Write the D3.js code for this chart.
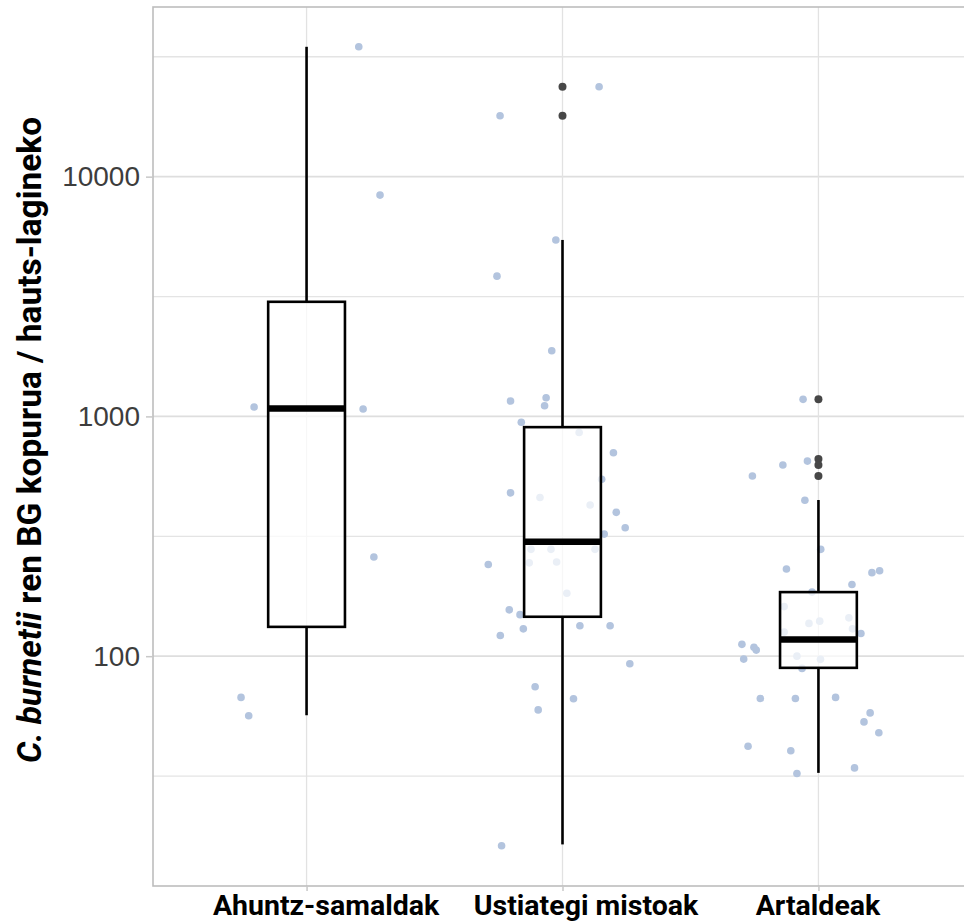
<!doctype html>
<meta charset="utf-8">
<style>
body { margin: 0; background: #fff; overflow: hidden; }
svg { display: block; }
.tick text { fill: #4d4d4d; }
</style>
<script src="https://d3js.org/d3.v7.min.js"></script>
<body>
<svg id="chart"></svg>
<script>
// categories and box statistics
var categories = ["Ahuntz-samaldak", "Ustiategi mistoak", "Artaldeak"];
var whiskerLow = [56.7, 16.4, 32.6];
var q1 = [132.5, 146, 89.4];
var median = [1080, 300, 117.4];
var q3 = [3006, 902, 185];
var whiskerHigh = [34800, 5445, 448];
var outliers = [[], [23700, 17950], [1178, 664, 627, 564]];

// individual samples (value, jitter as a fraction of the category step)
var ahuntzValues = [34800, 8375, 1094, 1073, 259, 67.3, 56.4];
var ahuntzJitter = [0.204, 0.287, -0.205, 0.221, 0.263, -0.256, -0.226];
var ustiategiValues = [23700, 17950, 5445, 3846, 1879, 1196, 1159, 1107, 945, 857, 705, 547, 480, 459, 427,
  398, 343, 323, 279, 279, 279, 247, 245, 241, 183, 156, 149, 134, 134, 130, 122, 93, 74.5, 66.4, 59.7, 16.2];
var ustiategiJitter = [0.143, -0.244, -0.026, -0.256, -0.042, -0.064, -0.203, -0.070, -0.161, 0.065, 0.199, 0.153, -0.203, -0.088, 0.108,
  0.210, 0.245, 0.163, -0.123, -0.045, 0.127, -0.023, -0.130, -0.290, 0.017, -0.208, -0.166, 0.068, 0.186, -0.153, -0.243, 0.263, -0.107, 0.043, -0.095, -0.238];
var artaldeakValues = [1178, 651, 627, 564, 447, 279, 231, 223, 227, 199, 185, 161, 137, 140, 144.5, 126, 130, 124.4,
  112, 109, 106, 97.2, 100, 97, 88.9, 66.6, 66.6, 67.3, 58, 53.2, 47.9, 42.1, 40.3, 34.2, 32.4];
var artaldeakJitter = [-0.060, -0.043, -0.139, -0.258, -0.053, 0.009, -0.125, 0.209, 0.239, 0.131, -0.025, -0.134, -0.037, 0.005, 0.119, -0.134, 0.133, 0.166,
  -0.299, -0.252, -0.243, -0.292, -0.084, 0.008, -0.064, -0.227, -0.090, 0.067, 0.202, 0.178, 0.236, -0.275, -0.108, 0.141, -0.084];

var majorBreaks = [100, 1000, 10000];
var minorBreaks = [31.62, 316.2, 3162, 31623];

var samples = [ahuntzValues, ustiategiValues, artaldeakValues];
var jitters = [ahuntzJitter, ustiategiJitter, artaldeakJitter];

var width = 964, height = 924;
var panel = {left: 153, right: 972, top: 7, bottom: 886};

var svg = d3.select("#chart").attr("width", width).attr("height", height);

var x = d3.scalePoint()
    .domain(categories)
    .range([panel.left, panel.right])
    .padding(0.6);

var y = d3.scaleLog()
    .domain([11, 51000])
    .range([panel.bottom, panel.top]);

var step = x.step();
var boxW = 0.3 * step;

// grid
var grid = svg.append("g");
grid.selectAll(".minor").data(minorBreaks).enter().append("line")
    .attr("x1", panel.left).attr("x2", width)
    .attr("y1", function(d){ return y(d); }).attr("y2", function(d){ return y(d); })
    .attr("stroke", "#e4e4e4").attr("stroke-width", 1.3);
grid.selectAll(".major").data(majorBreaks).enter().append("line")
    .attr("x1", panel.left).attr("x2", width)
    .attr("y1", function(d){ return y(d); }).attr("y2", function(d){ return y(d); })
    .attr("stroke", "#dedede").attr("stroke-width", 1.6);
grid.selectAll(".vert").data(categories).enter().append("line")
    .attr("x1", function(d){ return x(d); }).attr("x2", function(d){ return x(d); })
    .attr("y1", panel.top).attr("y2", panel.bottom)
    .attr("stroke", "#e2e2e2").attr("stroke-width", 1.3);

// jittered samples
var pts = [];
categories.forEach(function(c, i){
  samples[i].forEach(function(v, j){ pts.push({cat: c, v: v, dx: jitters[i][j]}); });
});
svg.append("g").selectAll("circle").data(pts).enter().append("circle")
    .attr("cx", function(d){ return x(d.cat) + d.dx * step; })
    .attr("cy", function(d){ return y(d.v); })
    .attr("r", 3.8)
    .attr("fill", "#b3c4de");

// boxplots
var boxes = categories.map(function(c, i){
  return {cat: c, lo: whiskerLow[i], q1: q1[i], med: median[i], q3: q3[i], hi: whiskerHigh[i], out: outliers[i]};
});
var bg = svg.append("g").selectAll("g").data(boxes).enter().append("g");
bg.append("line")
    .attr("x1", function(d){ return x(d.cat); }).attr("x2", function(d){ return x(d.cat); })
    .attr("y1", function(d){ return y(d.hi); }).attr("y2", function(d){ return y(d.q3); })
    .attr("stroke", "#000").attr("stroke-width", 2.6);
bg.append("line")
    .attr("x1", function(d){ return x(d.cat); }).attr("x2", function(d){ return x(d.cat); })
    .attr("y1", function(d){ return y(d.q1); }).attr("y2", function(d){ return y(d.lo); })
    .attr("stroke", "#000").attr("stroke-width", 2.6);
bg.append("rect")
    .attr("x", function(d){ return x(d.cat) - boxW / 2; })
    .attr("width", boxW)
    .attr("y", function(d){ return y(d.q3); })
    .attr("height", function(d){ return y(d.q1) - y(d.q3); })
    .attr("fill", "#fff").attr("fill-opacity", 0.72)
    .attr("stroke", "#000").attr("stroke-width", 2.6);
bg.append("line")
    .attr("x1", function(d){ return x(d.cat) - boxW / 2; }).attr("x2", function(d){ return x(d.cat) + boxW / 2; })
    .attr("y1", function(d){ return y(d.med); }).attr("y2", function(d){ return y(d.med); })
    .attr("stroke", "#000").attr("stroke-width", 6.5);
bg.selectAll(".out").data(function(d){ return d.out.map(function(v){ return {cat: d.cat, v: v}; }); })
  .enter().append("circle")
    .attr("cx", function(d){ return x(d.cat); })
    .attr("cy", function(d){ return y(d.v); })
    .attr("r", 4)
    .attr("fill", "#474747");

// panel border
svg.append("rect")
    .attr("x", panel.left).attr("y", panel.top)
    .attr("width", panel.right - panel.left).attr("height", panel.bottom - panel.top)
    .attr("fill", "none").attr("stroke", "#bdbdbd").attr("stroke-width", 1.6);

// axes
var yAxis = svg.append("g")
    .attr("transform", "translate(" + panel.left + ",0)")
    .call(d3.axisLeft(y).tickValues(majorBreaks).tickFormat(d3.format("d")).tickSize(7).tickPadding(6));
yAxis.select(".domain").remove();
yAxis.selectAll(".tick line").attr("stroke", "#c8c8c8").attr("stroke-width", 1.5);
yAxis.selectAll(".tick text")
    .style("font-family", "'Liberation Sans', Arial, sans-serif")
    .style("font-size", "28px")
    .style("fill", "#3d3d3d");

// the category labels in the figure sit a little off their ticks
var labelShift = [19, 23, -1];
var xAxis = svg.append("g")
    .attr("transform", "translate(0," + panel.bottom + ")")
    .call(d3.axisBottom(x).tickSize(5).tickPadding(4));
xAxis.select(".domain").remove();
xAxis.selectAll(".tick line").attr("stroke", "#c8c8c8").attr("stroke-width", 1.5);
xAxis.selectAll(".tick text")
    .attr("x", function(d, i){ return labelShift[i]; })
    .style("font-family", "Roboto, sans-serif")
    .style("font-weight", "700")
    .style("font-size", "28.5px")
    .style("fill", "#000");

// y title
var title = svg.append("text")
    .attr("transform", "translate(41,440) rotate(-90)")
    .attr("text-anchor", "middle")
    .style("font-family", "Roboto, sans-serif")
    .style("font-weight", "700")
    .style("font-size", "34px")
    .attr("textLength", 646)
    .attr("lengthAdjust", "spacingAndGlyphs");
title.append("tspan").style("font-style", "italic").text("C. burnetii");
title.append("tspan").text(" ren BG kopurua / hauts-lagineko");
</script>
</body>
